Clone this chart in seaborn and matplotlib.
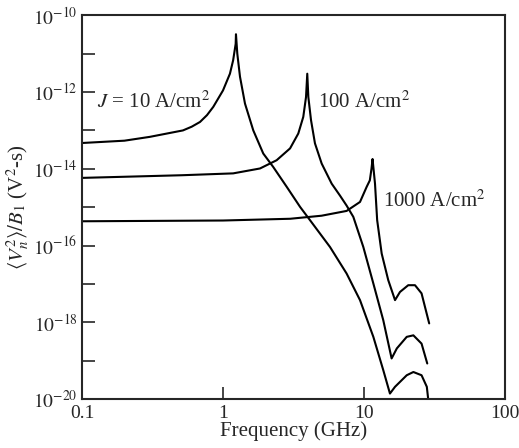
import numpy as np
import pandas as pd
import seaborn as sns
import matplotlib.pyplot as plt

# --- data (frequency in GHz, noise in V^2-s) ---
f_j10 = [0.1, 0.2, 0.303, 0.52, 0.6, 0.687, 0.77, 0.853, 1.0, 1.12, 1.18, 1.23, 1.236,
         1.263, 1.32, 1.432, 1.64, 1.93, 2.27, 2.83, 3.52, 4.14, 5.74, 7.53,
         9.37, 11.65, 13.7, 15.28, 16.6, 20.1, 22.4, 25.6, 27.9, 28.6]
v_j10 = [4.7e-14, 5.4e-14, 6.8e-14, 1.0e-13, 1.25e-13, 1.66e-13, 2.5e-13, 4.1e-13, 1.1e-12, 3.0e-12, 6.7e-12, 1.8e-11, 3.2e-11,
         1.0e-11, 2.5e-12, 5.0e-13, 1.0e-13, 2.5e-14, 1.12e-14, 3.4e-15, 1.02e-15, 4.6e-16, 9.2e-17, 1.87e-17,
         3.8e-18, 4.2e-19, 5.7e-20, 1.4e-20, 2.1e-20, 4.2e-20, 5.1e-20, 4.2e-20, 2.1e-20, 9.3e-21]

f_j100 = [0.1, 0.51, 1.18, 1.83, 2.40, 2.99, 3.42, 3.71, 3.88, 3.96,
          4.03, 4.21, 4.49, 5.01, 5.90, 6.76, 7.53, 8.4, 9.89, 11.65,
          13.7, 15.7, 17.1, 20.1, 22.4, 25.6, 28.1]
v_j100 = [5.8e-15, 6.8e-15, 7.6e-15, 1.02e-14, 1.67e-14, 3.4e-14, 8.3e-14, 2.25e-13, 7.4e-13, 3.0e-12,
          7.4e-13, 1.85e-13, 4.6e-14, 1.37e-14, 4.1e-15, 2.0e-15, 1.1e-15, 5.6e-16, 9.2e-17, 1.03e-17,
          1.14e-18, 1.15e-19, 2.1e-19, 4.2e-19, 4.6e-19, 2.8e-19, 8.5e-20]

f_j1000 = [0.1, 1.0, 3.0, 5.0, 7.53, 9.37, 10.45, 11.0, 11.3, 11.5,
           11.97, 12.4, 13.35, 14.86, 16.6, 18.0, 20.6, 23.0, 25.6, 27.1, 29.0]
v_j1000 = [4.3e-16, 4.5e-16, 5.0e-16, 6.0e-16, 8.0e-16, 1.37e-15, 3.4e-15, 5.0e-15, 1.0e-14, 1.8e-14,
           4.1e-15, 4.6e-16, 6.2e-17, 1.26e-17, 3.8e-18, 6.2e-18, 9.3e-18, 9.3e-18, 5.7e-18, 2.5e-18, 9.4e-19]

labels = ['10', '100', '1000']

df = pd.concat([
    pd.DataFrame({'freq': f_j10, 'noise': v_j10, 'J': labels[0]}),
    pd.DataFrame({'freq': f_j100, 'noise': v_j100, 'J': labels[1]}),
    pd.DataFrame({'freq': f_j1000, 'noise': v_j1000, 'J': labels[2]}),
])

sns.set_theme(style='ticks')
plt.rcParams['font.family'] = ['Liberation Serif', 'DejaVu Serif']
plt.rcParams['mathtext.fontset'] = 'stix'

fig = plt.figure(figsize=(5.19, 4.48), dpi=100)
ax = fig.add_axes([0.158, 0.109, 0.815, 0.857])

sns.lineplot(data=df, x='freq', y='noise', hue='J', estimator=None, sort=False,
             palette=['black'] * 3, linewidth=1.5, legend=False, ax=ax)

ax.set_xscale('log')
ax.set_yscale('log')
ax.set_xlim(0.1, 100)
ax.set_ylim(1e-20, 1e-10)

# ticks: every decade on y, labels only at even exponents
yt = [10.0 ** e for e in range(-20, -9)]
ax.set_yticks(yt)
ax.set_yticklabels([r'$10^{%d}$' % e if e % 2 == 0 else '' for e in range(-20, -9)])
ax.yaxis.set_minor_locator(plt.NullLocator())
ax.set_xticks([0.1, 1, 10, 100])
ax.set_xticklabels(['0.1', '1', '10', '100'])
ax.xaxis.set_minor_locator(plt.NullLocator())
ax.tick_params(direction='in', length=9, width=1.2, labelsize=14, pad=3)
ax.tick_params(axis='x', pad=4)
for s in ax.spines.values():
    s.set_linewidth(1.5)

ax.set_xlabel('Frequency (GHz)', fontsize=15, labelpad=0)
ax.set_ylabel(r'$\langle V_n^2\rangle/B_1$ (V$^2$-s)', fontsize=15, labelpad=2)

ax.text(0.128, 3.8e-13, r'$J$ = 10 A/cm$^2$', fontsize=15, va='baseline', ha='left')
ax.text(4.7, 3.8e-13, r'100 A/cm$^2$', fontsize=15, va='baseline', ha='left')
ax.text(13.6, 1.0e-15, r'1000 A/cm$^2$', fontsize=15, va='baseline', ha='left')

fig.savefig('out.png', dpi=100)
